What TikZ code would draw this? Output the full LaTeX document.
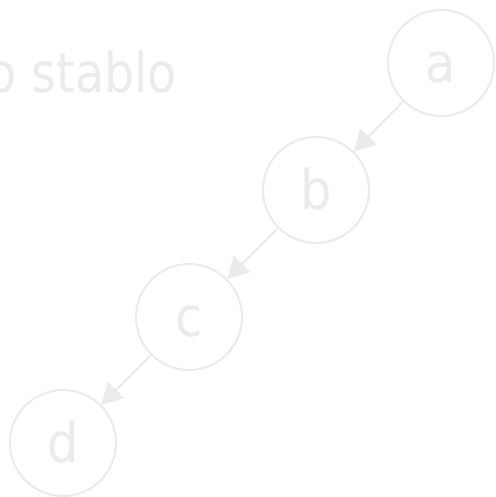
\documentclass[tikz,border=0pt]{standalone}
\usepackage{fontspec}
\setmainfont{DejaVu Sans Condensed}
\usetikzlibrary{arrows.meta}
\definecolor{pale}{HTML}{EBEBEB}
\tikzset{
  treenode/.style={circle, draw=pale, line width=2pt, minimum size=106pt, inner sep=0pt, text=pale, font=\fontsize{55}{60}\selectfont, text height=39pt, text depth=0pt},
  edge/.style={draw=pale, line width=2pt, -{Triangle[length=21pt,width=23pt]}},
}
\begin{document}
\begin{tikzpicture}[x=1pt,y=-1pt]
\useasboundingbox (0,0) rectangle (495,497);
\begin{scope}
\clip (0,0) rectangle (495,497);
\node[anchor=base east, text=pale, font=\fontsize{55}{60}\selectfont, inner sep=0pt, xscale=0.96] (title) at (177,93) {o stablo};
\end{scope}
\node[treenode] (a) at (441,63) {a};
\node[treenode] (b) at (316,190) {b};
\node[treenode] (c) at (189,317) {c};
\node[treenode] (d) at (63,443) {d};
\draw[edge] (a) -- (b);
\draw[edge] (b) -- (c);
\draw[edge] (c) -- (d);
\end{tikzpicture}
\end{document}
